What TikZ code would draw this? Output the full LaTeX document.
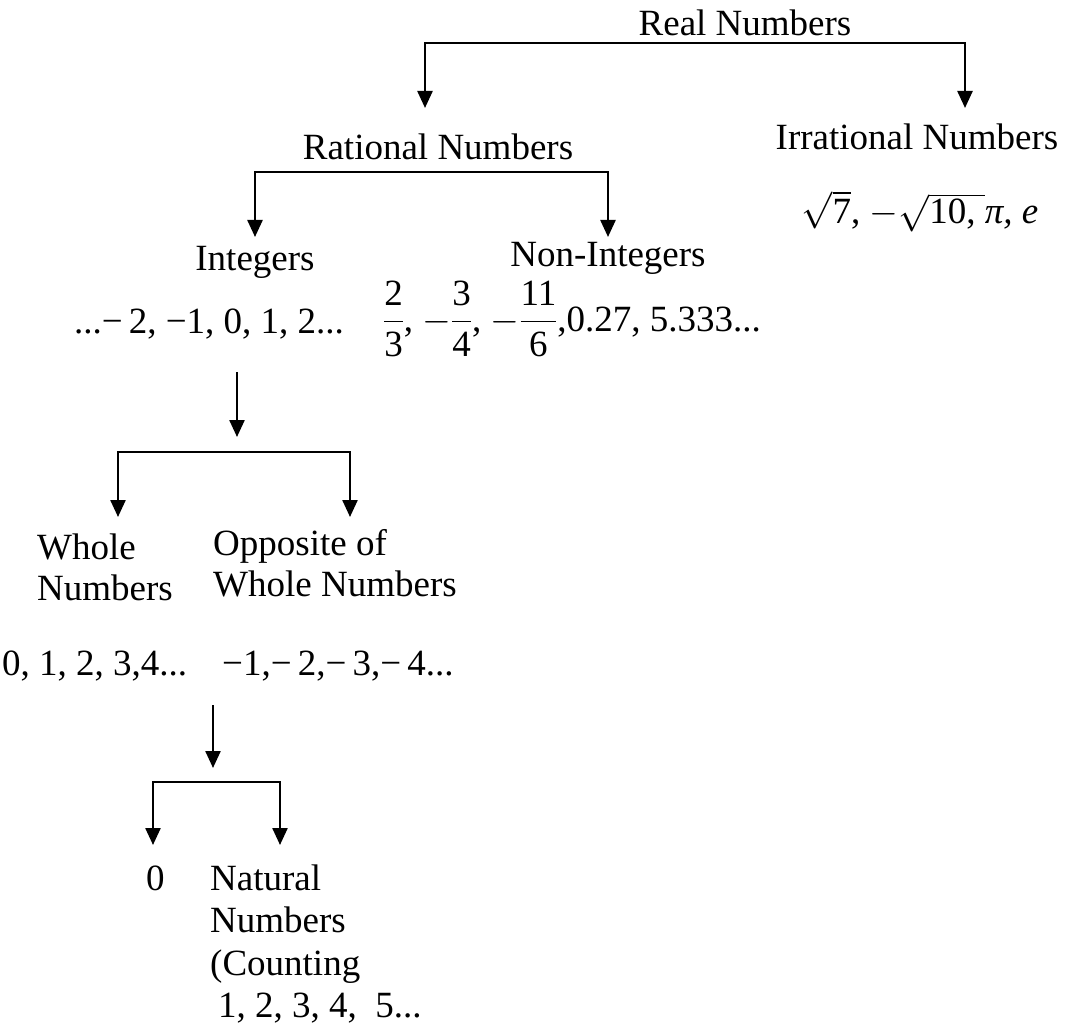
\documentclass[tikz,border=0pt]{standalone}
\usepackage{fix-cm}
\usepackage{amsmath}
\usepackage{fontspec}
\setmainfont{Liberation Serif}
\usetikzlibrary{arrows.meta}
\tikzset{
  lbl/.style={inner sep=0pt, font=\fontsize{37}{42}\selectfont},
  arr/.style={line width=2.4pt, {Triangle[width=15pt,length=17pt]}-{Triangle[width=15pt,length=17pt]}},
  one/.style={line width=2.4pt, -{Triangle[width=15pt,length=17pt]}}
}
\begin{document}
\begin{tikzpicture}[x=1pt,y=-1pt]
\useasboundingbox (0,0) rectangle (1075,1032);
% level 0
\node[lbl, anchor=base] (real) at (745,36) {Real Numbers};
\node[lbl, anchor=base] (rational) at (438,160) {Rational Numbers};
\node[lbl, anchor=base] (irrational) at (917,150) {Irrational Numbers};
\node[lbl, anchor=base] (irrex) at (920,224) {$\sqrt{\text{7}}\text{, }{-}\sqrt{\text{10, }}\text{\itshape π, e}$};
\coordinate (t1l) at (425,108);
\coordinate (t1r) at (965,108);
\draw[arr] (t1l) -- (425,43) -- (965,43) -- (t1r);
% level 1
\node[lbl, anchor=base] (integers) at (255,270) {Integers};
\node[lbl, anchor=base] (nonint) at (608,266) {Non-Integers};
\node[lbl, anchor=base] (intex) at (209,333) {...−\,2, −1, 0, 1, 2...};
\node[lbl, anchor=base] (nonintex) at (572,331) {$\dfrac{\text{2}}{\text{3}}\text{, }{-}\dfrac{\text{3}}{\text{4}}\text{, }{-}\dfrac{\text{11}}{\text{6}}\text{,0.27, 5.333...}$};
\coordinate (t2l) at (255,237);
\coordinate (t2r) at (608,237);
\draw[arr] (t2l) -- (255,172) -- (608,172) -- (t2r);
% integers split
\coordinate (s3) at (237,372);
\coordinate (t3) at (237,437);
\draw[one] (s3) -- (t3);
\coordinate (t4l) at (118,517);
\coordinate (t4r) at (350,517);
\draw[arr] (t4l) -- (118,452) -- (350,452) -- (t4r);
\node[lbl, anchor=base west] (whole1) at (37,559) {Whole};
\node[lbl, anchor=base west] (whole2) at (37,600) {Numbers};
\node[lbl, anchor=base west] (opp1) at (213,555) {Opposite of};
\node[lbl, anchor=base west] (opp2) at (213,596) {Whole Numbers};
\node[lbl, anchor=base west] (wholeex) at (2,675) {0, 1, 2, 3,4...};
\node[lbl, anchor=base west] (oppex) at (222,675) {−1,−\,2,−\,3,−\,4...};
% whole split
\coordinate (s5) at (213,705);
\coordinate (t5) at (213,768);
\draw[one] (s5) -- (t5);
\coordinate (t6l) at (153,845);
\coordinate (t6r) at (280,845);
\draw[arr] (t6l) -- (153,782) -- (280,782) -- (t6r);
\node[lbl, anchor=base west] (zero) at (146,890) {0};
\node[lbl, anchor=base west] (nat1) at (210,890) {Natural};
\node[lbl, anchor=base west] (nat2) at (210,932) {Numbers};
\node[lbl, anchor=base west] (nat3) at (210,975) {(Counting};
\node[lbl, anchor=base west] (natex) at (218,1017) {1, 2, 3, 4,\ \ 5...};
\end{tikzpicture}
\end{document}
